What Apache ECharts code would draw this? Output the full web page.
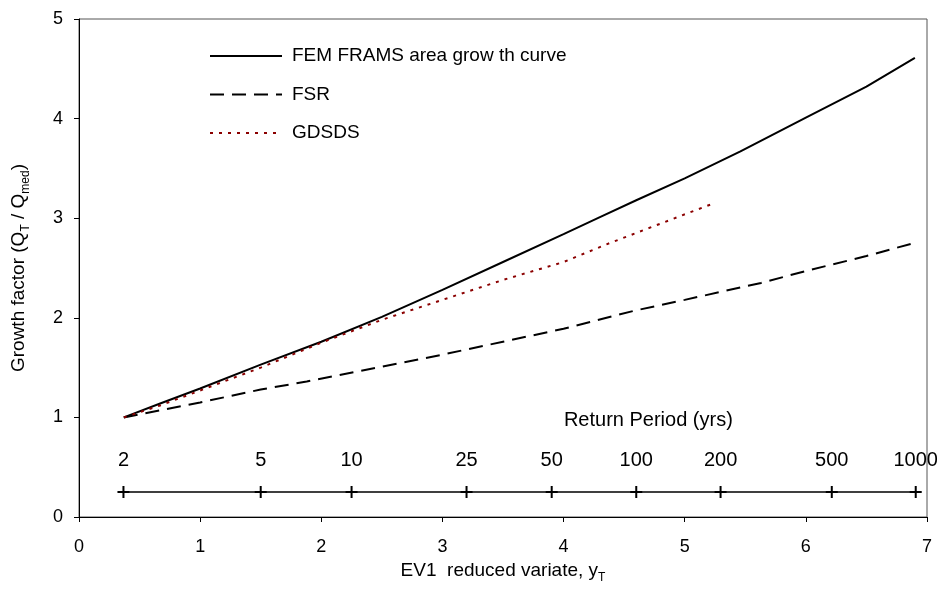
<!DOCTYPE html>
<html>
<head>
<meta charset="utf-8">
<script src="https://cdn.jsdelivr.net/npm/echarts@6/dist/echarts.min.js"></script>
<style>html,body{margin:0;padding:0;background:#fff}#c{width:937px;height:592px}</style>
</head>
<body>
<div id="c"></div>
<script>
// FEM FRAMS area growth curve [EV1 reduced variate, growth factor]
const femData = [[0.37,1.00],[0.67,1.14],[1.0,1.29],[1.5,1.53],[2.0,1.76],[2.5,2.01],[3.0,2.28],[3.5,2.56],[4.0,2.84],[4.3,3.01],[4.6,3.18],[5.0,3.40],[5.46,3.67],[6.0,4.01],[6.5,4.32],[6.9,4.61]];
// FSR
const fsrData = [[0.37,1.00],[1.0,1.15],[1.5,1.28],[1.88,1.36],[2.5,1.51],[3.0,1.63],[3.5,1.76],[4.0,1.89],[4.58,2.07],[5.0,2.18],[5.63,2.35],[6.0,2.47],[6.5,2.62],[6.89,2.75]];
// GDSDS
const gdsdsData = [[0.37,1.00],[0.67,1.12],[1.0,1.27],[1.5,1.50],[2.0,1.75],[2.5,1.98],[3.0,2.18],[3.5,2.38],[4.0,2.56],[4.36,2.74],[4.96,3.02],[5.22,3.14]];
// Return period scale (years) and their reduced variate positions
const rpLabels = ['2','5','10','25','50','100','200','500','1000'];
const rpX = [0.367,1.500,2.250,3.199,3.902,4.600,5.296,6.214,6.907];
const xTicks = [0,1,2,3,4,5,6,7];
const yTicks = [0,1,2,3,4,5];

const RP_AXIS_Y = 0.25;
const RP_TITLE_POS = [4.70, 0.97];
const FONT = 'Liberation Sans, Arial, sans-serif';

const chart = echarts.init(document.getElementById('c'));
chart.setOption({
  animation: false,
  backgroundColor: '#fff',
  textStyle: {fontFamily: FONT, color: '#000'},
  grid: {left: 79, right: 10, top: 19, bottom: 75, containLabel: false, outerBoundsMode: 'none',
         show: true, borderColor: '#555', borderWidth: 1},
  legend: {
    orient: 'vertical', left: 204, top: 41, itemWidth: 72, itemHeight: 14, itemGap: 18.5,
    itemStyle: {opacity: 0},
    textStyle: {fontSize: 19, fontFamily: FONT, color: '#000', lineHeight: 20, padding: [0, 0, 0, 5]},
    data: ['FEM FRAMS area grow th curve', 'FSR', 'GDSDS']
  },
  xAxis: {
    type: 'value', min: xTicks[0], max: xTicks[xTicks.length-1], interval: 1,
    axisLine: {show: true, lineStyle: {color: '#000', width: 1}},
    axisTick: {show: true, length: 5, lineStyle: {color: '#000'}},
    axisLabel: {fontSize: 18, color: '#000', margin: 21, fontFamily: FONT},
    splitLine: {show: false},
    name: 'EV1  reduced variate, y{sub|T}', nameLocation: 'middle', nameGap: 38,
    nameTextStyle: {fontSize: 19, color: '#000', fontFamily: FONT,
      rich: {sub: {fontSize: 12, verticalAlign: 'bottom', padding: [0,0,-4,0], fontFamily: FONT}}}
  },
  yAxis: {
    type: 'value', min: yTicks[0], max: yTicks[yTicks.length-1], interval: 1,
    axisLine: {show: true, lineStyle: {color: '#000', width: 1}},
    axisTick: {show: true, length: 5, lineStyle: {color: '#000'}},
    axisLabel: {fontSize: 18, color: '#000', margin: 16, fontFamily: FONT},
    splitLine: {show: false},
    name: 'Growth factor (Q{sub|T} / Q{sub|med})', nameLocation: 'middle', nameGap: 51, nameRotate: 90,
    nameTextStyle: {fontSize: 19, color: '#000', fontFamily: FONT,
      rich: {sub: {fontSize: 12, verticalAlign: 'bottom', padding: [0,0,-4,0], fontFamily: FONT}}}
  },
  series: [
    {name: 'FEM FRAMS area grow th curve', type: 'line', data: femData, symbol: 'none', smooth: false,
     lineStyle: {color: '#000', width: 2, type: 'solid'}, itemStyle: {color: '#000'}, z: 5},
    {name: 'FSR', type: 'line', data: fsrData, symbol: 'none',
     lineStyle: {color: '#000', width: 2, type: [14, 8]}, itemStyle: {color: '#000'}, z: 4},
    {name: 'GDSDS', type: 'line', data: gdsdsData, symbol: 'none',
     lineStyle: {color: '#8B0000', width: 2, type: [3, 6]}, itemStyle: {color: '#8B0000'}, z: 6},
    {name: 'rp', type: 'line', data: rpX.map((x, i) => ({value: [x, RP_AXIS_Y], label: {formatter: rpLabels[i]}})),
     symbol: 'path://M0,5L10,5M5,0L5,10', symbolSize: 12,
     itemStyle: {color: 'rgba(0,0,0,0)', borderColor: '#000', borderWidth: 2},
     lineStyle: {color: '#000', width: 1.5},
     label: {show: true, position: 'top', distance: 15, fontSize: 20, color: '#000', fontFamily: FONT},
     silent: true, z: 3},
    {name: 'rpTitle', type: 'scatter', data: [RP_TITLE_POS], symbolSize: 0,
     itemStyle: {opacity: 1, color: '#000'},
     label: {show: true, position: 'inside', formatter: 'Return Period (yrs)', fontSize: 20, color: '#000', fontFamily: FONT},
     silent: true}
  ]
});
</script>
</body>
</html>
